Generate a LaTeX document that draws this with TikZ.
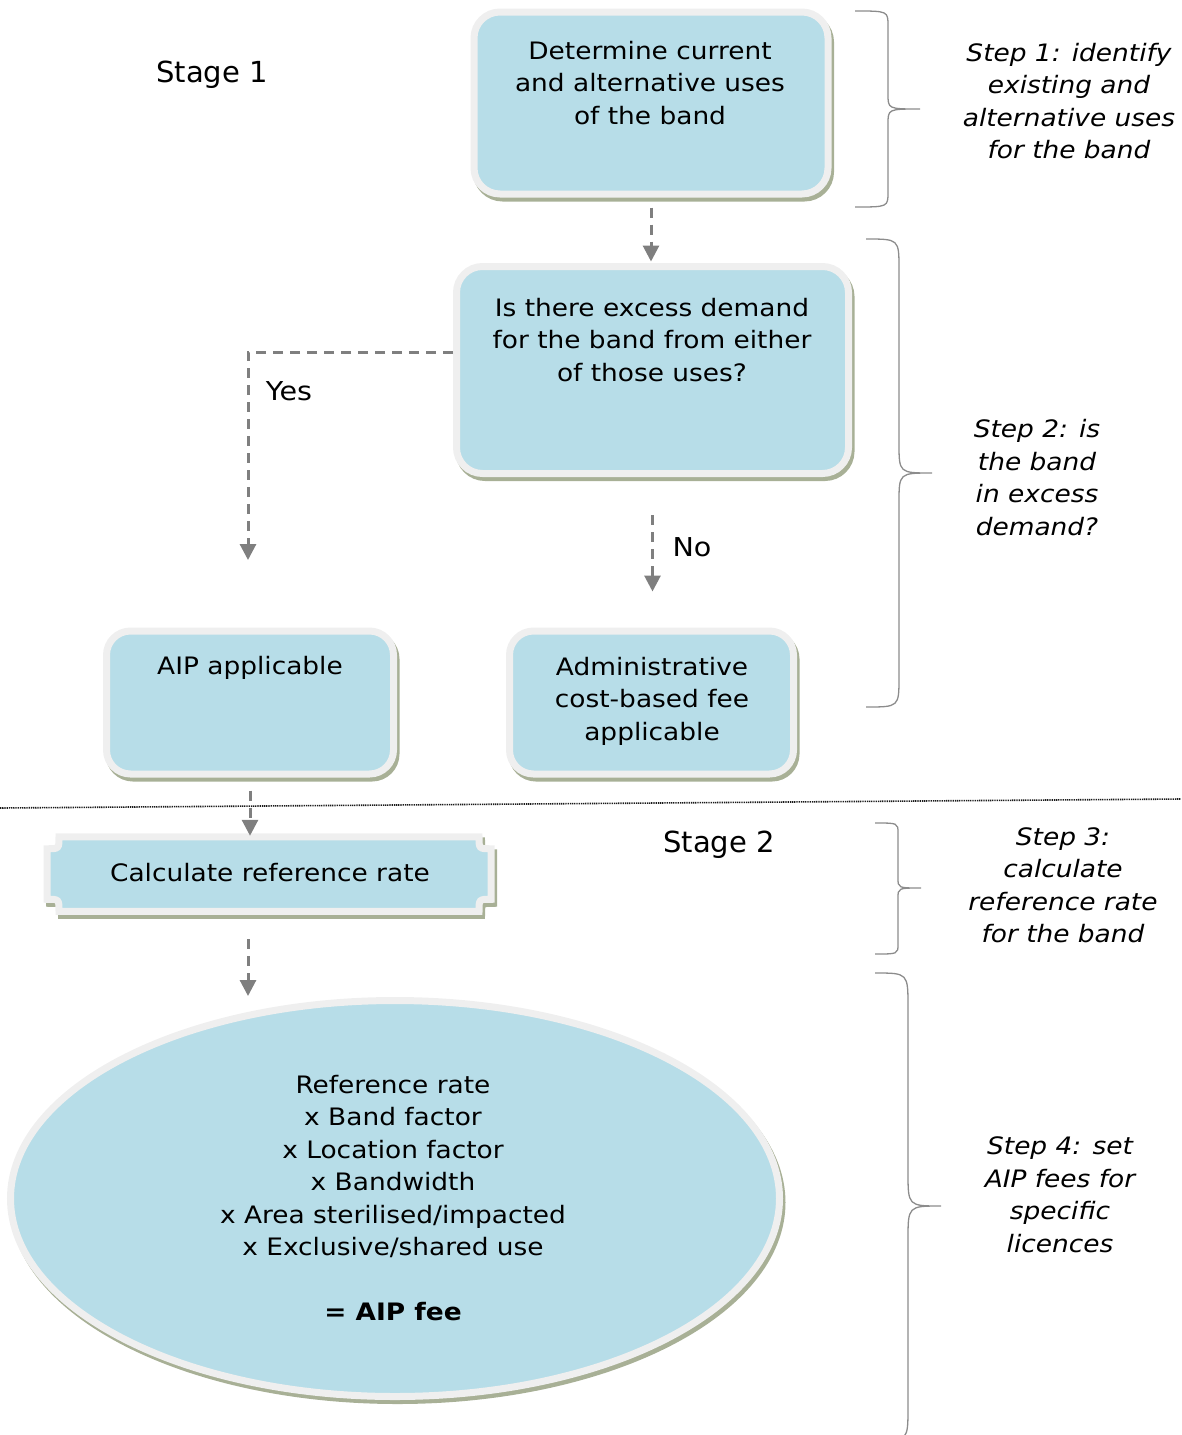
\documentclass[tikz,border=0pt]{standalone}
\usepackage{fontspec}
\setmainfont{DejaVu Sans}[FakeStretch=1.1, ItalicFont=DejaVu Sans Oblique, BoldFont=DejaVu Sans Bold]
\newfontfamily\stagefont{DejaVu Sans}
\usetikzlibrary{arrows.meta,shapes.geometric,calc}
\definecolor{boxblue}{HTML}{B7DDE8}
\definecolor{boxrim}{HTML}{EFEFEF}
\definecolor{boxshadow}{HTML}{A8B096}
\definecolor{arrowgrey}{HTML}{7F7F7F}
\definecolor{bracegrey}{HTML}{8C8C8C}
\newcommand\curlybrace[7]{% xe xv xt yt ym yb r
  \draw[bracestyle] (#1,#4) .. controls (#2,#4) .. (#2,#4+#7) -- (#2,#5-#7)
    .. controls (#2,#5) .. (#3,#5) .. controls (#2,#5) .. (#2,#5+#7)
    -- (#2,#6-#7) .. controls (#2,#6) .. (#1,#6);}
\begin{document}
\begin{tikzpicture}[x=1pt,y=-1pt,
  shadowpre/.style={preaction={draw=boxshadow, fill=boxshadow, line width=7pt,
      transform canvas={shift={(2.5pt,-4pt)}}}},
  panel/.style={rectangle, rounded corners=#1, fill=boxblue, draw=boxrim,
      line width=7pt, inner sep=0pt, outer sep=3.5pt, shadowpre},
  oval/.style={ellipse, fill=boxblue, draw=boxrim, line width=7pt,
      inner sep=0pt, outer sep=3.5pt, shadowpre},
  txt/.style={align=center, inner sep=0pt, text=black,
      font=\fontsize{24}{32.5}\selectfont},
  lbltxt/.style={inner sep=0pt, text=black, font=\fontsize{26}{32}\selectfont},
  steptxt/.style={txt, font=\fontsize{24}{32.5}\selectfont\itshape},
  stagetxt/.style={inner sep=0pt, text=black, font=\stagefont\fontsize{29}{34}\selectfont},
  conn/.style={draw=arrowgrey, line width=3pt, dash pattern=on 10pt off 7pt,
      -{Triangle[length=16pt,width=16pt]}},
  bracestyle/.style={draw=bracegrey, line width=1.3pt},
]
\useasboundingbox (0,0) rectangle (1181,1435);

% boxes
\node[panel=26pt, minimum width=354pt, minimum height=182pt] (box1) at (651,103) {};
\node[panel=26pt, minimum width=392pt, minimum height=207pt] (box2) at (652.5,370) {};
\node[panel=24pt, minimum width=287pt, minimum height=143pt] (aip) at (250,702.5) {};
\node[panel=24pt, minimum width=284pt, minimum height=143pt] (admin) at (651.5,702.5) {};
\node[rectangle, inner sep=0pt, outer sep=0pt, minimum width=444pt, minimum height=74.5pt] (calc) at (269,874) {};
\draw[fill=boxblue, draw=boxrim, line width=7pt, shadowpre]
  ($(calc.north west)+(12,0)$) -- ($(calc.north east)+(-12,0)$)
  .. controls ($(calc.north east)+(-12,12)$) .. ($(calc.north east)+(0,12)$)
  -- ($(calc.south east)+(0,-12)$)
  .. controls ($(calc.south east)+(-12,-12)$) .. ($(calc.south east)+(-12,0)$)
  -- ($(calc.south west)+(12,0)$)
  .. controls ($(calc.south west)+(12,-12)$) .. ($(calc.south west)+(0,-12)$)
  -- ($(calc.north west)+(0,12)$)
  .. controls ($(calc.north west)+(12,12)$) .. ($(calc.north west)+(12,0)$) -- cycle;
\node[oval, minimum width=769pt, minimum height=396pt] (ell) at (395,1198.5) {};

% box texts
\node[txt] (t1) at (650,83) {Determine current\\and alternative uses\\of the band};
\node[txt] (t2) at (652,340) {Is there excess demand\\for the band from either\\of those uses?};
\node[txt] (t3) at (250,668) {AIP applicable};
\node[txt] (t4) at (652,701) {Administrative\\cost-based fee\\applicable};
\node[txt] (t5) at (270,873) {Calculate reference rate};
\node[txt] (t6) at (393,1198) {Reference rate\\x Band factor\\x Location factor\\x Bandwidth\\x Area sterilised/impacted\\x Exclusive/shared use\\[32.5pt]\textbf{= AIP fee}};

% stage labels
\node[stagetxt] (s1) at (212,75) {Stage 1};
\node[stagetxt] (s2) at (719,845) {Stage 2};

% connectors
\coordinate (yesend) at (248,560);
\draw[conn, shorten <=10pt, shorten >=1.5pt] (box1.south) -- (box1.south |- box2.north);
\draw[conn] ($(box2.west)+(0,-18)$) -| (yesend);
\node[lbltxt] (yes) at (289,391) {Yes};
\draw[conn, shorten <=38pt, shorten >=36pt] (box2.south) -- (box2.south |- admin.north);
\node[lbltxt] (no) at (692,547) {No};
\draw[conn, shorten <=13pt, shorten >=1pt] (aip.south) -- (aip.south |- calc.north);
\draw[conn, shorten <=28pt, shorten >=1pt] (yesend |- calc.south) -- (yesend |- ell.north);

% separator
\draw[black!90, line width=1.6pt, dash pattern=on 1.3pt off 0.9pt] (0,808) -- (1181,799);

% braces
\curlybrace{855}{888}{920}{11}{109}{207}{15}
\curlybrace{866}{899}{932}{239}{473}{707}{30}
\curlybrace{875}{898}{921}{823}{888}{954}{10}
\curlybrace{875}{908}{941}{973}{1206}{1441}{34}

% step labels
\node[steptxt] (st1) at (1069,101) {Step 1: identify\\existing and\\alternative uses\\for the band};
\node[steptxt] (st2) at (1037,477.5) {Step 2: is\\the band\\in excess\\demand?};
\node[steptxt] (st3) at (1063,885.5) {Step 3:\\calculate\\reference rate\\for the band};
\node[steptxt] (st4) at (1060,1194.5) {Step 4: set\\AIP fees for\\specific\\licences};
\end{tikzpicture}
\end{document}
